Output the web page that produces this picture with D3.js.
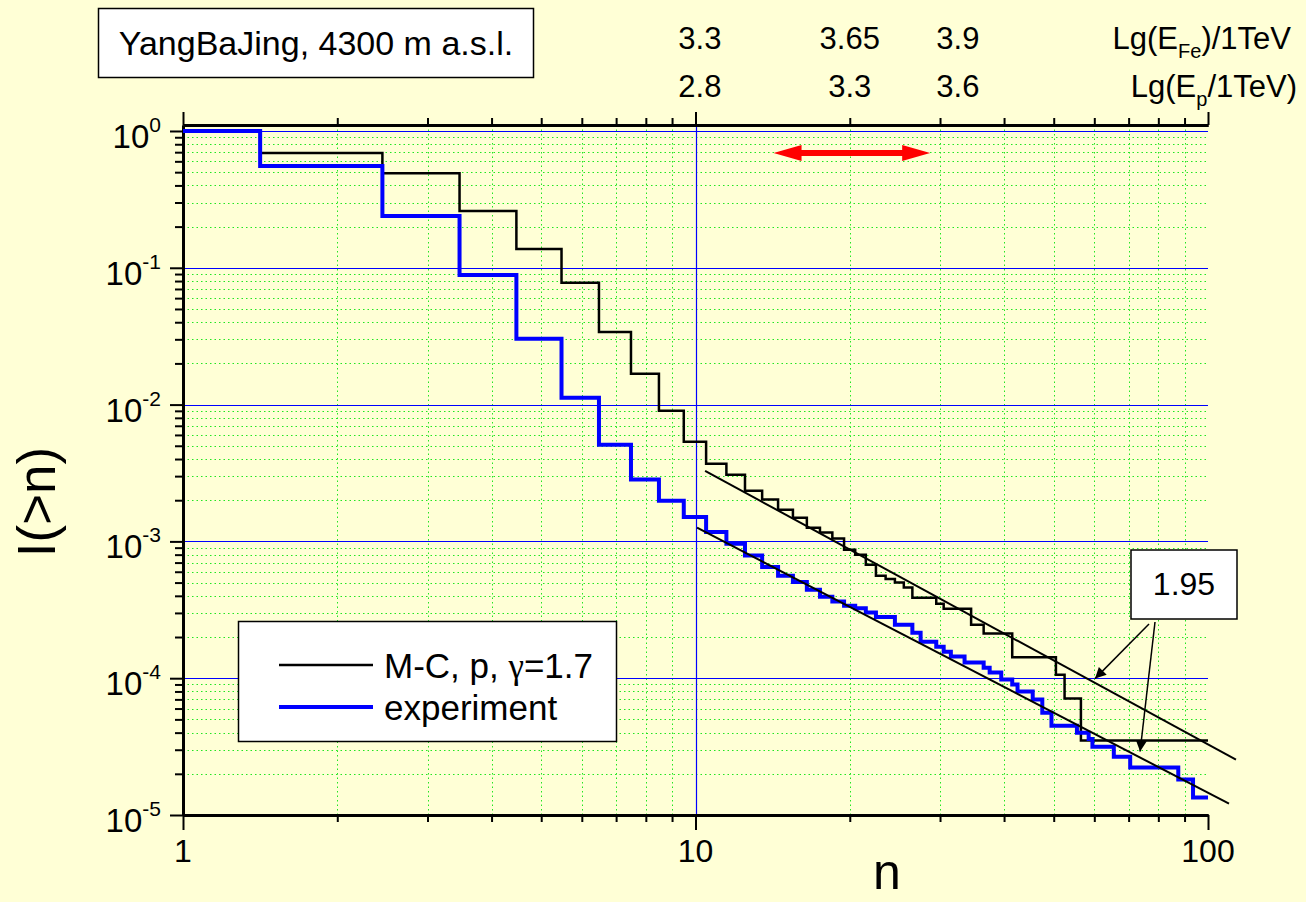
<!DOCTYPE html>
<html>
<head>
<meta charset="utf-8">
<script src="https://cdn.jsdelivr.net/npm/d3@7"></script>
<style>
  body { margin: 0; background: #ffffd6; }
  svg { display: block; font-family: "Liberation Sans", Arial, sans-serif; }
</style>
</head>
<body>
<div id="chart"></div>
<script>
// multiplicity n (category axis)
const nValues = [
  1, 2, 3, 4, 5, 6, 7, 8, 9, 10, 11, 12, 13, 14, 15, 16, 17, 18, 19, 20,
  21, 22, 23, 24, 25, 26, 27, 28, 29, 30, 31, 32, 33, 34, 35, 36, 37, 38, 39, 40,
  41, 42, 43, 44, 45, 46, 47, 48, 49, 50, 51, 52, 53, 54, 55, 56, 57, 58, 59, 60,
  61, 62, 63, 64, 65, 66, 67, 68, 69, 70, 71, 72, 73, 74, 75, 76, 77, 78, 79, 80,
  81, 82, 83, 84, 85, 86, 87, 88, 89, 90, 91, 92, 93, 94, 95, 96, 97, 98, 99, 100
];

// I(>n), Monte-Carlo, protons, gamma=1.7
const mcValues = [
  1.0, 0.69, 0.49, 0.26, 0.137, 0.0776, 0.034, 0.0168, 0.009, 0.00535,
  0.0037, 0.00307, 0.00235, 0.00202, 0.0017, 0.00149, 0.00126, 0.00116, 0.00105, 0.00087,
  0.0008, 0.000676, 0.00056, 0.00053, 0.0005, 0.00046, 0.000388, 0.000388, 0.000388, 0.00035,
  0.000322, 0.000322, 0.000322, 0.000322, 0.000246, 0.000246, 0.000212, 0.000212, 0.000212, 0.000212,
  0.000212, 0.000142, 0.000142, 0.000142, 0.000142, 0.000142, 0.000142, 0.000142, 0.000142, 0.000142,
  0.000106, 0.000106, 0.000071, 0.000071, 0.000071, 0.000071, 3.5e-5, 3.5e-5, 3.5e-5, 3.5e-5,
  3.5e-5, 3.5e-5, 3.5e-5, 3.5e-5, 3.5e-5, 3.5e-5, 3.5e-5, 3.5e-5, 3.5e-5, 3.5e-5,
  3.5e-5, 3.5e-5, 3.5e-5, 3.5e-5, 3.5e-5, 3.5e-5, 3.5e-5, 3.5e-5, 3.5e-5, 3.5e-5,
  3.5e-5, 3.5e-5, 3.5e-5, 3.5e-5, 3.5e-5, 3.5e-5, 3.5e-5, 3.5e-5, 3.5e-5, 3.5e-5,
  3.5e-5, 3.5e-5, 3.5e-5, 3.5e-5, 3.5e-5, 3.5e-5, 3.5e-5, 3.5e-5, 3.5e-5, 3.5e-5
];

// I(>n), experiment
const expValues = [
  1.0, 0.555, 0.239, 0.0887, 0.0303, 0.0112, 0.00508, 0.00283, 0.00198, 0.00151,
  0.00117, 0.00096, 0.00079, 0.00065, 0.00056, 0.000505, 0.000444, 0.000394, 0.000363, 0.000339,
  0.000325, 0.000302, 0.00028, 0.00028, 0.000246, 0.000246, 0.000215, 0.000185, 0.000185, 0.00017,
  0.000156, 0.000144, 0.000144, 0.00013, 0.00013, 0.00013, 0.000119, 0.00011, 0.00011, 0.000098,
  0.000098, 0.00009, 0.00008, 0.00008, 0.00008, 0.00007, 0.00007, 0.000056, 0.000056, 0.000045,
  0.000045, 0.000045, 0.000045, 0.000045, 0.000045, 0.00004, 0.00004, 0.00004, 0.000036, 3.16e-5,
  3.16e-5, 3.16e-5, 3.16e-5, 3.16e-5, 3.16e-5, 2.67e-5, 2.67e-5, 2.67e-5, 2.67e-5, 2.67e-5,
  2.22e-5, 2.22e-5, 2.22e-5, 2.22e-5, 2.22e-5, 2.22e-5, 2.22e-5, 2.22e-5, 2.22e-5, 2.22e-5,
  2.22e-5, 2.22e-5, 2.22e-5, 2.22e-5, 2.22e-5, 2.22e-5, 2.22e-5, 1.82e-5, 1.82e-5, 1.82e-5,
  1.82e-5, 1.82e-5, 1.82e-5, 1.34e-5, 1.34e-5, 1.34e-5, 1.34e-5, 1.34e-5, 1.34e-5, 1.34e-5
];

// power law fits (end points, n and I)
const fitMC = [[10.44, 3.28e-3], [113.4, 2.54e-5]];
const fitExp = [[10.07, 1.26e-3], [109.9, 1.21e-5]];
const fitLabel = '1.95';
const fitArrowTargets = [[60.2, 9.93e-5], [73.7, 2.91e-5]];

// axes
const xMajor = [1, 10, 100];
const xMinor = [2, 3, 4, 5, 6, 7, 8, 9, 20, 30, 40, 50, 60, 70, 80, 90];
const yExponents = [0, -1, -2, -3, -4, -5];

// energy scale on top
const energyN = [10.2, 20, 32.5];
const feLabels = ['3.3', '3.65', '3.9'];
const pLabels = ['2.8', '3.3', '3.6'];

// red range arrow
const rangeN = [14.2, 28.7];
const rangeI = 0.69;

const legendLabels = ['M-C, p, ', 'experiment'];
const seriesColors = ['#000000', '#0000ff'];
const seriesWidths = [2.5, 4];

const W = 1306, H = 902;
const plotLeft = 183, plotRight = 1208, plotTop = 125, plotBottom = 815;

const svg = d3.select('#chart').append('svg')
  .attr('width', W)
  .attr('height', H);

svg.append('rect').attr('width', W).attr('height', H).attr('fill', '#ffffd6');

const x = d3.scaleLog().domain([1, 100]).range([plotLeft, plotRight]);
const y = d3.scaleLog().domain([1e-5, 1.106]).range([plotBottom, plotTop]);

const yMajor = yExponents.map(e => Math.pow(10, e));
const yMinor = [];
for (let e = -5; e < 0; e++) {
  for (let k = 2; k <= 9; k++) yMinor.push(k * Math.pow(10, e));
}

// grid: minor green dotted
const grid = svg.append('g').attr('class', 'grid');
grid.selectAll('.gx').data(xMinor).enter().append('line')
  .attr('x1', d => Math.round(x(d)) + 0.5).attr('x2', d => Math.round(x(d)) + 0.5)
  .attr('y1', plotTop).attr('y2', plotBottom)
  .attr('stroke', '#22e622').attr('stroke-width', 1).attr('stroke-dasharray', '1.5,3');
grid.selectAll('.gy').data(yMinor).enter().append('line')
  .attr('y1', d => Math.round(y(d)) + 0.5).attr('y2', d => Math.round(y(d)) + 0.5)
  .attr('x1', plotLeft).attr('x2', plotRight)
  .attr('stroke', '#22e622').attr('stroke-width', 1).attr('stroke-dasharray', '1.5,3');
// major blue
grid.selectAll('.my').data(yMajor.filter(d => d > 1e-5)).enter().append('line')
  .attr('y1', d => Math.round(y(d)) + 0.5).attr('y2', d => Math.round(y(d)) + 0.5)
  .attr('x1', plotLeft).attr('x2', plotRight)
  .attr('stroke', '#0000ff').attr('stroke-width', 1.2);
grid.append('line')
  .attr('x1', Math.round(x(10)) + 0.5).attr('x2', Math.round(x(10)) + 0.5)
  .attr('y1', plotTop).attr('y2', plotBottom)
  .attr('stroke', '#0000ff').attr('stroke-width', 1.2);

// axes
function styleAxis(g) {
  g.selectAll('path.domain').attr('stroke', '#000').attr('stroke-width', 3);
  g.selectAll('.tick line').attr('stroke', '#000').attr('stroke-width', 2);
  g.selectAll('.tick text').remove();
}
svg.append('g').attr('transform', `translate(0,${plotBottom})`)
  .call(d3.axisBottom(x).tickValues(xMinor).tickSize(7).tickSizeOuter(0)).call(styleAxis);
svg.append('g').attr('transform', `translate(0,${plotBottom})`)
  .call(d3.axisBottom(x).tickValues(xMajor).tickSize(15).tickSizeOuter(0)).call(styleAxis);
svg.append('g').attr('transform', `translate(0,${plotTop})`)
  .call(d3.axisTop(x).tickValues(xMinor).tickSize(7).tickSizeOuter(0)).call(styleAxis);
svg.append('g').attr('transform', `translate(0,${plotTop})`)
  .call(d3.axisTop(x).tickValues(xMajor).tickSize(13).tickSizeOuter(0)).call(styleAxis);
svg.append('g').attr('transform', `translate(${plotLeft},0)`)
  .call(d3.axisLeft(y).tickValues(yMinor).tickSize(8).tickSizeOuter(0)).call(styleAxis);
svg.append('g').attr('transform', `translate(${plotLeft},0)`)
  .call(d3.axisLeft(y).tickValues(yMajor).tickSize(13).tickSizeOuter(0)).call(styleAxis);

// tick labels
svg.selectAll('.xlab').data(xMajor).enter().append('text')
  .attr('x', d => x(d)).attr('y', 862)
  .attr('text-anchor', 'middle').attr('font-size', 32)
  .text(d => d);
const ylab = svg.selectAll('.ylab').data(yExponents).enter().append('text')
  .attr('x', 161).attr('y', d => y(Math.pow(10, d)) + 17)
  .attr('text-anchor', 'end').attr('font-size', 33);
ylab.append('tspan').text('10');
ylab.append('tspan').attr('dy', -16).attr('font-size', 21).text(d => d);

// axis titles
svg.append('text')
  .attr('transform', 'translate(55,502) rotate(-90)')
  .attr('text-anchor', 'middle').attr('font-size', 53)
  .text('I(>n)');
svg.append('text')
  .attr('x', 887).attr('y', 889)
  .attr('text-anchor', 'middle').attr('font-size', 50)
  .text('n');

// step curves
const stepLine = d3.line()
  .x(d => x(d[0]))
  .y(d => y(d[1]))
  .curve(d3.curveStep);
const series = [mcValues, expValues];
series.forEach((vals, i) => {
  svg.append('path')
    .datum(nValues.map((n, k) => [n, vals[k]]))
    .attr('d', stepLine)
    .attr('fill', 'none')
    .attr('stroke', seriesColors[i])
    .attr('stroke-width', seriesWidths[i])
    .attr('stroke-linejoin', 'miter');
});

// fits
const fitLine = d3.line().x(d => x(d[0])).y(d => y(d[1]));
[fitMC, fitExp].forEach(f => {
  svg.append('path').datum(f).attr('d', fitLine)
    .attr('fill', 'none').attr('stroke', '#000').attr('stroke-width', 2);
});

// arrowhead marker
svg.append('defs').append('marker')
  .attr('id', 'head')
  .attr('viewBox', '0 0 10 10')
  .attr('refX', 10).attr('refY', 5)
  .attr('markerUnits', 'userSpaceOnUse')
  .attr('markerWidth', 17).attr('markerHeight', 11)
  .attr('orient', 'auto')
  .append('path').attr('d', 'M0,0L10,5L0,10z').attr('fill', '#000');

// "1.95" callout
const box = { x: 1131, y: 550, w: 106, h: 69 };
const arrowStarts = [[1149, 624], [1155, 622]];
fitArrowTargets.forEach((t, i) => {
  svg.append('line')
    .attr('x1', arrowStarts[i][0]).attr('y1', arrowStarts[i][1])
    .attr('x2', x(t[0])).attr('y2', y(t[1]))
    .attr('stroke', '#000').attr('stroke-width', 1.5)
    .attr('marker-end', 'url(#head)');
});
svg.append('rect')
  .attr('x', box.x).attr('y', box.y).attr('width', box.w).attr('height', box.h)
  .attr('fill', '#fff').attr('stroke', '#000').attr('stroke-width', 1.5);
svg.append('text')
  .attr('x', box.x + box.w / 2).attr('y', 595)
  .attr('text-anchor', 'middle').attr('font-size', 32)
  .text(fitLabel);

// red double arrow
const ax1 = x(rangeN[0]), ax2 = x(rangeN[1]), ay = y(rangeI);
const hl = 28, hw = 8, sw = 3;
svg.append('path')
  .attr('d', `M${ax1},${ay} L${ax1 + hl},${ay - hw} L${ax1 + hl},${ay - sw} L${ax2 - hl},${ay - sw}
    L${ax2 - hl},${ay - hw} L${ax2},${ay} L${ax2 - hl},${ay + hw} L${ax2 - hl},${ay + sw}
    L${ax1 + hl},${ay + sw} L${ax1 + hl},${ay + hw} Z`)
  .attr('fill', '#ff0000');

// legend
const legend = svg.append('g').attr('class', 'legend');
legend.append('rect')
  .attr('x', 238.5).attr('y', 621.5).attr('width', 378).attr('height', 120)
  .attr('fill', '#fff').attr('stroke', '#000').attr('stroke-width', 1.5);
legendLabels.forEach((lab, i) => {
  const ly = 665 + i * 42;
  legend.append('line')
    .attr('x1', 279).attr('x2', 373).attr('y1', ly).attr('y2', ly)
    .attr('stroke', seriesColors[i]).attr('stroke-width', seriesWidths[i]);
  const t = legend.append('text')
    .attr('x', 384).attr('y', ly + 13).attr('font-size', 35);
  t.append('tspan').text(lab);
  if (i === 0) {
    t.append('tspan').attr('font-family', '"Liberation Serif", serif').text('γ');
    t.append('tspan').text('=1.7');
  }
});

// site box
svg.append('rect')
  .attr('x', 98.5).attr('y', 8.5).attr('width', 435).attr('height', 69)
  .attr('fill', '#fff').attr('stroke', '#000').attr('stroke-width', 1.5);
svg.append('text')
  .attr('x', 316).attr('y', 55)
  .attr('text-anchor', 'middle').attr('font-size', 34)
  .text('YangBaJing, 4300 m a.s.l.');

// energy labels on top
svg.selectAll('.fe').data(energyN).enter().append('text')
  .attr('x', d => x(d)).attr('y', 49)
  .attr('text-anchor', 'middle').attr('font-size', 31)
  .text((d, i) => feLabels[i]);
svg.selectAll('.pl').data(energyN).enter().append('text')
  .attr('x', d => x(d)).attr('y', 97)
  .attr('text-anchor', 'middle').attr('font-size', 31)
  .text((d, i) => pLabels[i]);

const fe = svg.append('text').attr('x', 1291).attr('y', 49)
  .attr('text-anchor', 'end').attr('font-size', 31);
fe.append('tspan').text('Lg(E');
fe.append('tspan').attr('dy', 9).attr('font-size', 20).text('Fe');
fe.append('tspan').attr('dy', -9).text(')/1TeV');

const ep = svg.append('text').attr('x', 1297).attr('y', 97)
  .attr('text-anchor', 'end').attr('font-size', 31);
ep.append('tspan').text('Lg(E');
ep.append('tspan').attr('dy', 9).attr('font-size', 20).text('p');
ep.append('tspan').attr('dy', -9).text('/1TeV)');
</script>
</body>
</html>
